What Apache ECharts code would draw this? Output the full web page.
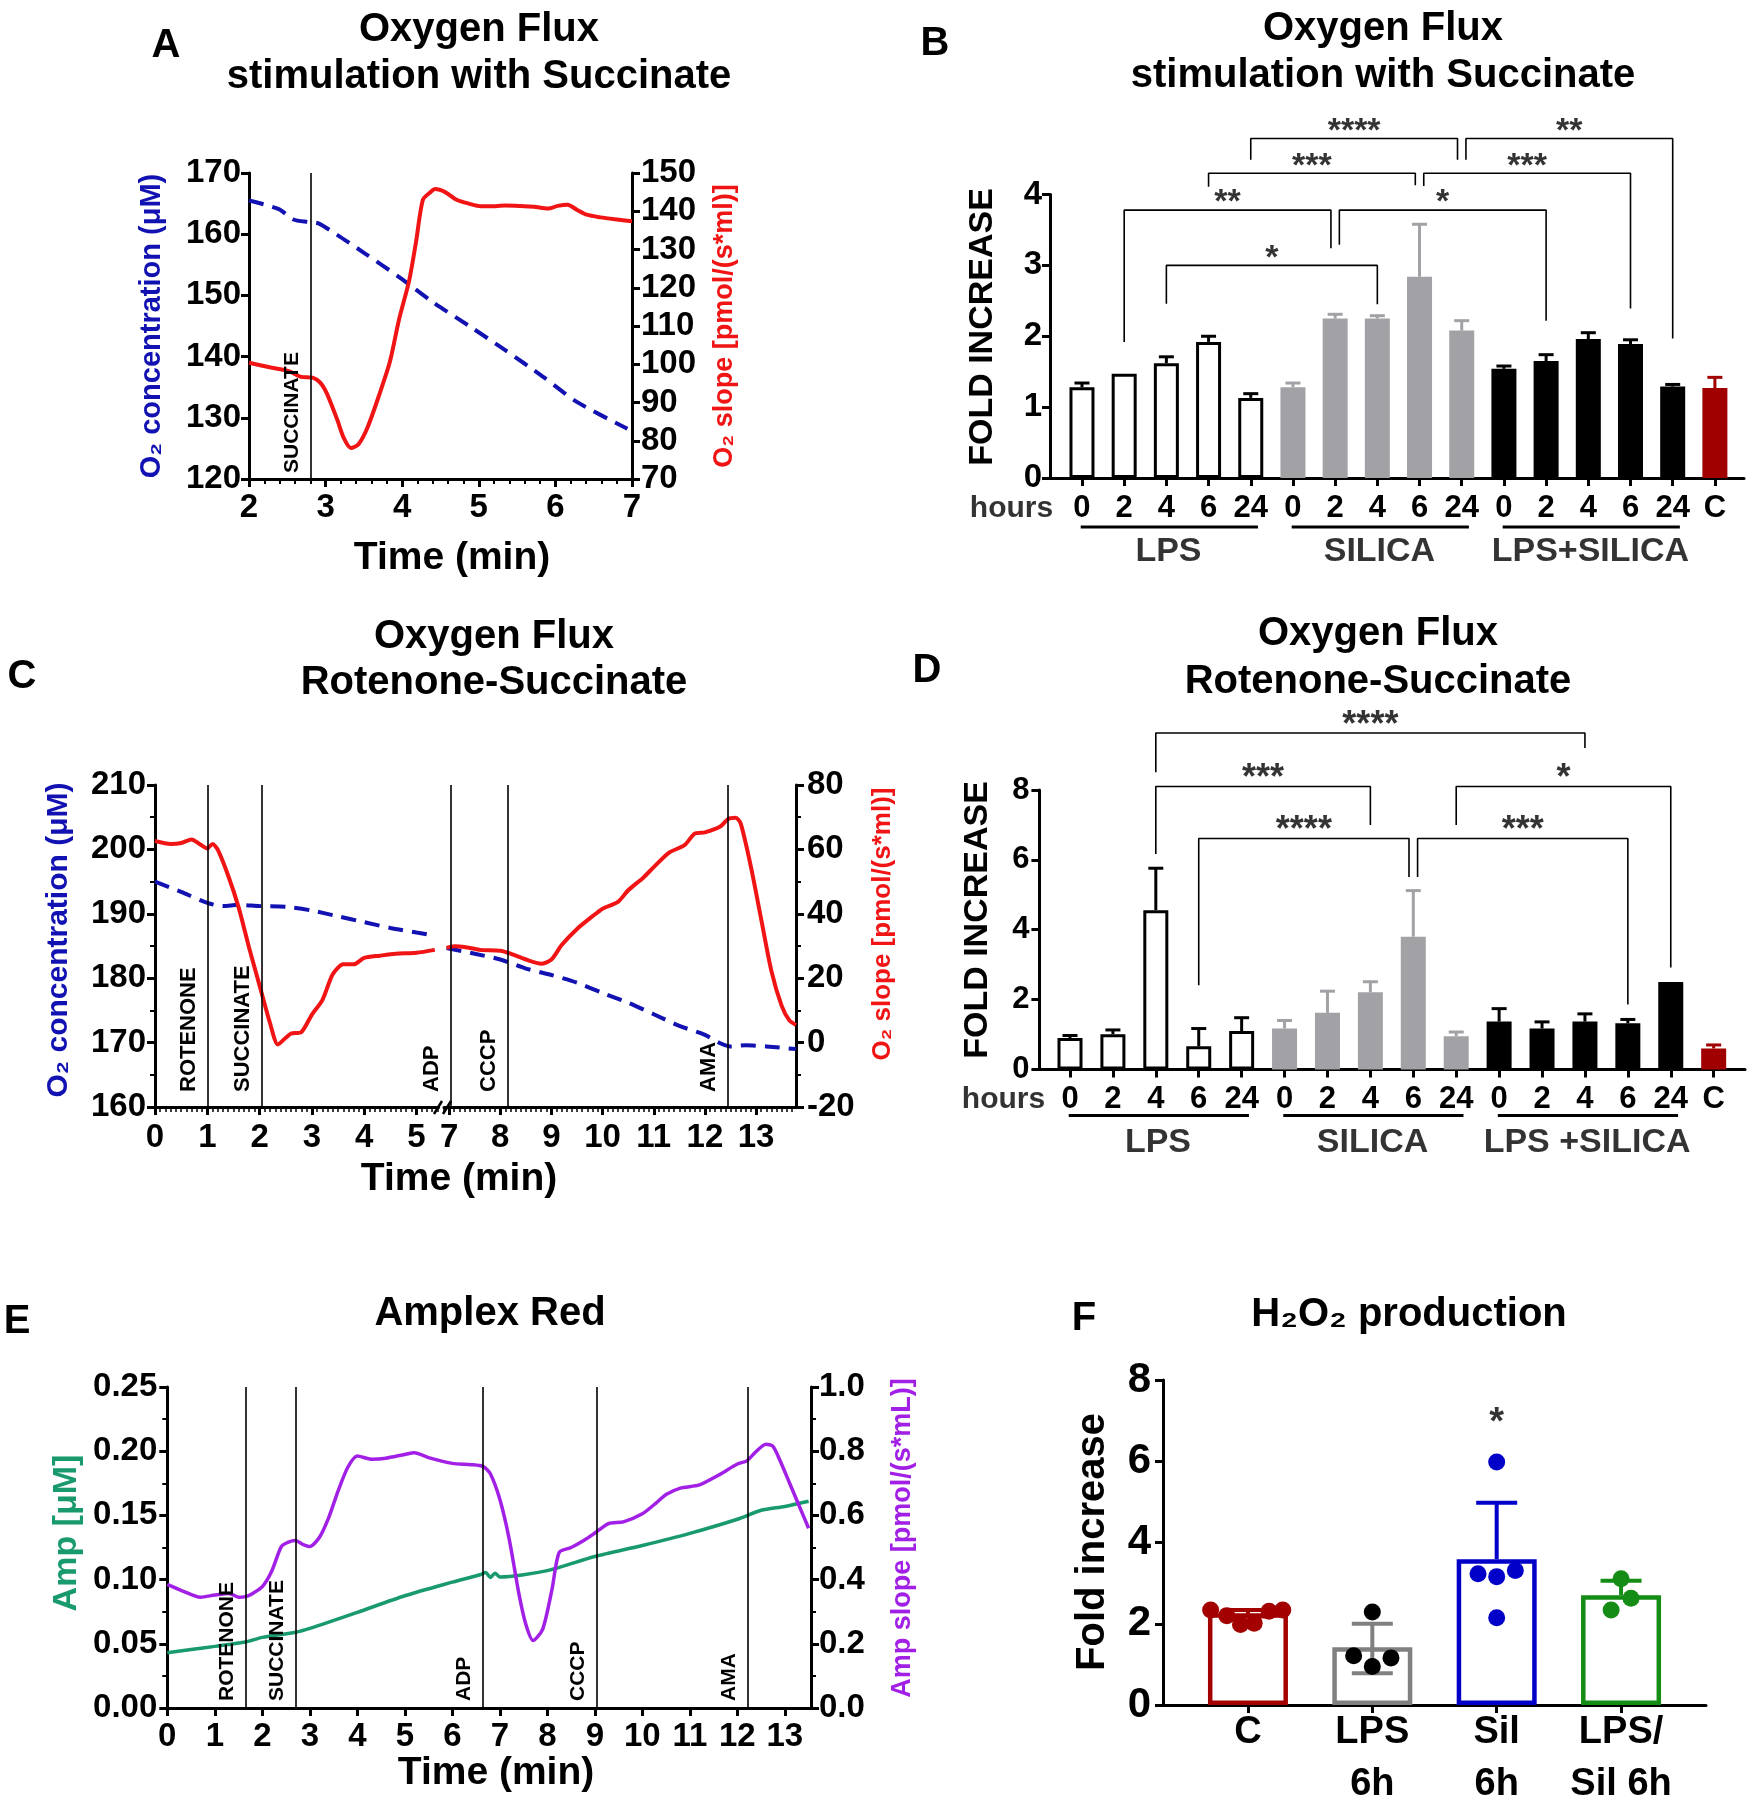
<!DOCTYPE html>
<html>
<head>
<meta charset="utf-8">
<script src="https://cdn.jsdelivr.net/npm/echarts@6/dist/echarts.min.js"></script>
<style>
html,body{margin:0;padding:0;background:#fff;}
#chart{width:1747px;height:1800px;}
</style>
</head>
<body>
<div id="chart"></div>
<script>
// ================= DATA =================
// Panel A : Oxygen flux, stimulation with succinate
const aEvents = [['SUCCINATE', 2.8]];
const aConcTime = [2.0, 2.39, 2.58, 2.77, 2.9, 3.15, 3.52, 3.96, 4.40, 4.9, 5.34, 5.84, 6.28, 6.94];
const aConc     = [165.5, 164.1, 162.4, 162.0, 161.8, 159.9, 156.8, 153.0, 148.9, 144.8, 141.1, 136.7, 132.6, 128.2];
const aSlopeTime = [2.0, 2.27, 2.52, 2.68, 2.83, 2.93, 3.02, 3.15, 3.24, 3.33, 3.43, 3.55, 3.71, 3.84, 3.96, 4.09, 4.18, 4.27, 4.37, 4.43, 4.56, 4.71, 4.87, 5.03, 5.15, 5.34, 5.53, 5.72, 5.9, 6.03, 6.16, 6.28, 6.41, 6.59, 6.78, 7.0];
const aSlope     = [100.4, 99.2, 98.2, 96.7, 96.5, 95.2, 92.2, 85.6, 80.6, 78.1, 79.1, 83.6, 92.6, 100.7, 111.8, 121.8, 131.9, 143.0, 145.0, 145.8, 145.0, 143.0, 142.0, 141.3, 141.3, 141.5, 141.4, 141.2, 140.7, 141.4, 141.7, 140.4, 139.1, 138.4, 137.9, 137.4];

// Panel B : fold increase, succinate
const bHours = ['0','2','4','6','24','0','2','4','6','24','0','2','4','6','24','C'];
const bGroupNames = ['LPS', 'SILICA', 'LPS+SILICA'];
const bLPS    = [1.28, 1.47, 1.62, 1.92, 1.13];
const bLPSErr = [0.06, 0.00, 0.09, 0.08, 0.06];
const bSIL    = [1.28, 2.25, 2.25, 2.84, 2.08];
const bSILErr = [0.06, 0.06, 0.04, 0.74, 0.14];
const bLS     = [1.54, 1.65, 1.96, 1.89, 1.29];
const bLSErr  = [0.04, 0.09, 0.09, 0.06, 0.03];
const bC      = [1.27];
const bCErr   = [0.15];
// brackets: [left x, right x, top, left leg end, right leg end, stars]
const bBrackets = [
  [2, 7, 3.00, 2.46, 2.45, '*'],
  [1, 5.9, 3.78, 1.92, 3.24, '**'],
  [6.1, 11, 3.78, 3.29, 2.22, '*'],
  [3, 7.9, 4.30, 4.11, 4.13, '***'],
  [8.1, 13, 4.30, 4.12, 2.39, '***'],
  [4, 8.9, 4.79, 4.49, 4.49, '****'],
  [9.1, 14, 4.79, 4.49, 1.97, '**']
];

// Panel C : rotenone-succinate traces (time axis broken between 5.4 and 6.9 min)
const cEventsLeft  = [['ROTENONE', 1.01], ['SUCCINATE', 2.05]];
const cEventsRight = [['ADP', 7.03], ['CCCP', 8.15], ['AMA', 12.45]];
const cSlopeTimeL = [0, 0.3, 0.5, 0.7, 0.85, 1.0, 1.1, 1.2, 1.4, 1.6, 1.8, 2.0, 2.2, 2.35, 2.5, 2.6, 2.8, 3.0, 3.2, 3.4, 3.6, 3.8, 4.0, 4.3, 4.6, 5.0, 5.35];
const cSlopeL     = [62.6, 61.7, 62.0, 63.1, 61.7, 60.3, 61.7, 59.9, 51.8, 41.9, 29.4, 17.7, 6.0, -0.6, 1.5, 2.8, 3.3, 8.7, 13.2, 21.3, 24.3, 24.3, 26.3, 27.0, 27.6, 27.9, 28.8];
const cConcTimeL  = [0, 0.5, 1.0, 1.3, 1.6, 2.0, 2.5, 3.0, 3.5, 4.0, 4.5, 5.0, 5.3];
const cConcL      = [195.0, 193.4, 191.7, 191.2, 191.4, 191.2, 191.1, 190.5, 189.6, 188.7, 187.8, 187.1, 186.7];
const cSlopeTimeR = [6.95, 7.1, 7.3, 7.6, 8.0, 8.2, 8.5, 8.8, 9.0, 9.2, 9.5, 9.8, 10.0, 10.3, 10.5, 10.8, 11.0, 11.3, 11.6, 11.8, 12.0, 12.3, 12.45, 12.6, 12.7, 12.9, 13.1, 13.3, 13.5, 13.65, 13.78];
const cSlopeR     = [29.4, 29.9, 29.7, 28.8, 28.5, 27.6, 25.8, 24.5, 25.8, 30.3, 35.3, 39.2, 41.6, 43.7, 47.3, 51.3, 54.5, 59.0, 61.3, 64.9, 65.3, 67.1, 69.4, 69.8, 68.0, 54.5, 38.3, 22.2, 11.4, 6.9, 5.5];
const cConcTimeR  = [6.95, 7.5, 8.0, 8.5, 9.0, 9.5, 10.0, 10.5, 11.0, 11.5, 12.0, 12.3, 12.5, 12.8, 13.2, 13.78];
const cConcR      = [184.7, 183.8, 182.9, 181.5, 180.5, 179.3, 177.7, 176.2, 174.4, 172.6, 171.2, 169.9, 169.4, 169.6, 169.4, 169.0];

// Panel D : fold increase, rotenone-succinate
const dHours = ['0','2','4','6','24','0','2','4','6','24','0','2','4','6','24','C'];
const dGroupNames = ['LPS', 'SILICA', 'LPS +SILICA'];
const dLPS    = [0.90, 1.01, 4.56, 0.66, 1.10];
const dLPSErr = [0.07, 0.12, 1.20, 0.51, 0.38];
const dSIL    = [1.17, 1.62, 2.21, 3.80, 0.95];
const dSILErr = [0.23, 0.62, 0.30, 1.32, 0.12];
const dLS     = [1.37, 1.17, 1.37, 1.32, 2.50];
const dLSErr  = [0.37, 0.19, 0.22, 0.11, 0.00];
const dC      = [0.60];
const dCErr   = [0.10];
const dBrackets = [
  [2, 12, 9.63, 8.51, 9.20, '****'],
  [2, 7, 8.10, 6.17, 7.00, '***'],
  [9, 14, 8.10, 7.00, 2.92, '*'],
  [3, 7.9, 6.61, 2.41, 5.51, '****'],
  [8.1, 13, 6.61, 5.51, 1.86, '***']
];

// Panel E : Amplex Red
const eEvents = [['ROTENONE', 1.65], ['SUCCINATE', 2.71], ['ADP', 6.63], ['CCCP', 9.03], ['AMA', 12.22]];
const eAmpTime = [0, 0.5, 1.0, 1.65, 2.0, 2.7, 3.0, 4.0, 5.0, 6.0, 6.6, 6.7, 6.8, 6.9, 7.0, 8.0, 9.0, 10.0, 11.0, 12.0, 12.5, 13.0, 13.5];
const eAmp     = [0.043, 0.0455, 0.048, 0.0514, 0.055, 0.059, 0.062, 0.0745, 0.0874, 0.098, 0.104, 0.1056, 0.1017, 0.105, 0.102, 0.107, 0.118, 0.1266, 0.136, 0.147, 0.154, 0.157, 0.161];
const eSlopeTime = [0, 0.3, 0.7, 1.0, 1.3, 1.5, 1.65, 1.8, 2.0, 2.2, 2.4, 2.55, 2.7, 2.85, 3.0, 3.2, 3.4, 3.6, 3.8, 4.0, 4.3, 4.6, 5.0, 5.2, 5.5, 6.0, 6.4, 6.65, 6.8, 7.0, 7.2, 7.4, 7.55, 7.7, 7.9, 8.1, 8.25, 8.5, 8.8, 9.0, 9.3, 9.6, 10.0, 10.3, 10.5, 10.8, 11.2, 11.6, 12.0, 12.2, 12.4, 12.6, 12.75, 12.9, 13.1, 13.3, 13.5];
const eSlope     = [0.385, 0.366, 0.345, 0.352, 0.357, 0.345, 0.347, 0.357, 0.378, 0.427, 0.503, 0.517, 0.522, 0.51, 0.503, 0.531, 0.594, 0.678, 0.75, 0.785, 0.775, 0.778, 0.79, 0.795, 0.78, 0.762, 0.758, 0.752, 0.73, 0.65, 0.524, 0.357, 0.259, 0.21, 0.245, 0.371, 0.485, 0.5, 0.525, 0.545, 0.575, 0.58, 0.605, 0.64, 0.665, 0.685, 0.695, 0.725, 0.76, 0.77, 0.8, 0.822, 0.815, 0.77, 0.70, 0.63, 0.56];

// Panel F : H2O2 production
const fCats = ['C', 'LPS\n6h', 'Sil\n6h', 'LPS/\nSil 6h'];
const fMeans   = [2.26, 1.42, 3.59, 2.70];
const fErrUp   = [0.08, 0.58, 1.39, 0.36];
const fErrDown = [0.08, 0.64, 0.00, 0.00];
const fPtsC   = [2.34, 2.20, 1.98, 2.01, 2.31, 2.34];
const fPtsLPS = [2.29, 1.21, 0.95, 1.16];
const fPtsSil = [5.98, 3.23, 3.16, 3.31, 2.15];
const fPtsLS  = [3.11, 2.63, 2.34];
const fSignif = [[2, 7.16, '*']];

// ================= STYLE / LAYOUT =================
const FONT = '"Liberation Sans", Arial, Helvetica, sans-serif';
const BLUE = '#1212b2', RED = '#f01414', GREEN = '#199a6c', PURPLE = '#a220e6';
const GRAYBAR = '#a2a2a6', DARKRED = '#a00000';
const F_BORDER = ['#a30000', '#808080', '#0000c8', '#158c15'];
const F_POINT  = ['#a30000', '#000000', '#0000c8', '#158c15'];
// point spread (horizontal jitter within each column)
const fJitter = [[-0.30, -0.17, -0.06, 0.05, 0.17, 0.28], [0, -0.15, 0, 0.15], [0, -0.15, 0, 0.15, 0], [0, 0.08, -0.08]];

const seq = (a, b, step) => { const r = []; for (let i = 0; a + i * step <= b + 1e-9; i++) r.push(+(a + i * step).toFixed(4)); return r; };
const notInt = v => Math.abs(v - Math.round(v)) > 1e-6;
const pairs = (xs, ys) => xs.map((x, i) => [x, ys[i]]);

const AXL = {show: true, onZero: false, lineStyle: {color: '#000', width: 3}};
const NOLINE = {show: false, onZero: false};
const NOSPLIT = {show: false};
function tick(len, extra) { return Object.assign({show: true, inside: false, length: len, lineStyle: {color: '#000', width: 3}}, extra || {}); }
function lab(size, margin, extra) { return Object.assign({show: true, color: '#000', fontFamily: FONT, fontWeight: 'bold', fontSize: size, margin: margin}, extra || {}); }
function minor(n, len) { return {show: true, splitNumber: n, length: len, lineStyle: {color: '#000', width: 2}}; }

const idxB = bHours.map((_, i) => i);
const idxD = dHours.map((_, i) => i);
const idxF = fCats.map((_, i) => i);
const c1Major = seq(0, 5, 1), c2Major = seq(7, 13, 1), eMajor = seq(0, 13, 1);
const c1Minor = seq(0, 5.4, 0.1).filter(notInt);
const c2Minor = seq(6.9, 13.7, 0.1).filter(notInt);

const grids = [
  {left: 249, top: 173, width: 383, height: 306},      // 0 A
  {left: 1050, top: 194.5, width: 694, height: 283.5}, // 1 B
  {left: 155, top: 785, width: 283.5, height: 322},    // 2 C left part
  {left: 444, top: 785, width: 352, height: 322},      // 3 C right part
  {left: 1039.4, top: 790, width: 705.6, height: 279.4}, // 4 D
  {left: 167.3, top: 1387, width: 643.7, height: 321}, // 5 E
  {left: 1163, top: 1380, width: 543, height: 325}     // 6 F
].map(g => Object.assign({show: false, containLabel: false, outerBoundsMode: 'none'}, g));

const xAxes = [
  {gridIndex: 0, type: 'value', min: 2, max: 7, interval: 1, axisLine: AXL, axisTick: tick(8), minorTick: minor(5, 5), axisLabel: lab(33, 12), splitLine: NOSPLIT, minorSplitLine: NOSPLIT},
  {gridIndex: 1, type: 'value', min: -0.758, max: 15.69, axisLine: AXL, axisTick: tick(8, {customValues: idxB}), axisLabel: lab(31, 15, {customValues: idxB, formatter: v => bHours[Math.round(v)]}), splitLine: NOSPLIT},
  {gridIndex: 2, type: 'value', min: 0, max: 5.42, axisLine: AXL, axisTick: tick(8, {customValues: c1Major}), axisLabel: lab(33, 14, {customValues: c1Major}), splitLine: NOSPLIT},
  {gridIndex: 2, type: 'value', min: 0, max: 5.42, axisLine: NOLINE, axisTick: tick(5, {customValues: c1Minor, lineStyle: {color: '#000', width: 1.5}}), axisLabel: {show: false}, splitLine: NOSPLIT},
  {gridIndex: 3, type: 'value', min: 6.9, max: 13.78, axisLine: AXL, axisTick: tick(8, {customValues: c2Major}), axisLabel: lab(33, 14, {customValues: c2Major}), splitLine: NOSPLIT},
  {gridIndex: 3, type: 'value', min: 6.9, max: 13.78, axisLine: NOLINE, axisTick: tick(5, {customValues: c2Minor, lineStyle: {color: '#000', width: 1.5}}), axisLabel: {show: false}, splitLine: NOSPLIT},
  {gridIndex: 4, type: 'value', min: -0.713, max: 15.73, axisLine: AXL, axisTick: tick(8, {customValues: idxD}), axisLabel: lab(31, 15, {customValues: idxD, formatter: v => dHours[Math.round(v)]}), splitLine: NOSPLIT},
  {gridIndex: 5, type: 'value', min: 0, max: 13.55, axisLine: AXL, axisTick: tick(8, {customValues: eMajor}), axisLabel: lab(33, 12, {customValues: eMajor}), splitLine: NOSPLIT},
  {gridIndex: 6, type: 'value', min: -0.683, max: 3.683, axisLine: AXL, axisTick: tick(8, {customValues: idxF}), axisLabel: lab(38, 2, {customValues: idxF, lineHeight: 52, formatter: v => fCats[Math.round(v)]}), splitLine: NOSPLIT}
].map(a => Object.assign({position: 'bottom'}, a));

const yAxes = [
  {gridIndex: 0, type: 'value', position: 'left', min: 120, max: 170, interval: 10, axisLine: AXL, axisTick: tick(8), axisLabel: lab(33, 8), splitLine: NOSPLIT},
  {gridIndex: 0, type: 'value', position: 'right', min: 70, max: 150, interval: 10, axisLine: AXL, axisTick: tick(8), axisLabel: lab(33, 9), splitLine: NOSPLIT},
  {gridIndex: 1, type: 'value', position: 'left', min: 0, max: 4, interval: 1, axisLine: AXL, axisTick: tick(8), axisLabel: lab(33, 8), splitLine: NOSPLIT},
  {gridIndex: 2, type: 'value', position: 'left', min: 160, max: 210, interval: 10, axisLine: AXL, axisTick: tick(8), minorTick: minor(2, 5), axisLabel: lab(33, 9), splitLine: NOSPLIT, minorSplitLine: NOSPLIT},
  {gridIndex: 2, type: 'value', position: 'right', min: -20, max: 80, show: false, axisLine: NOLINE},
  {gridIndex: 3, type: 'value', position: 'left', min: 160, max: 210, show: false, axisLine: NOLINE},
  {gridIndex: 3, type: 'value', position: 'right', min: -20, max: 80, interval: 20, axisLine: AXL, axisTick: tick(8), minorTick: minor(2, 5), axisLabel: lab(33, 11), splitLine: NOSPLIT, minorSplitLine: NOSPLIT},
  {gridIndex: 4, type: 'value', position: 'left', min: 0, max: 8, interval: 2, axisLine: AXL, axisTick: tick(8), axisLabel: lab(31, 10), splitLine: NOSPLIT},
  {gridIndex: 5, type: 'value', position: 'left', min: 0, max: 0.25, interval: 0.05, axisLine: AXL, axisTick: tick(8), minorTick: minor(2, 5), axisLabel: lab(33, 10, {formatter: v => v.toFixed(2)}), splitLine: NOSPLIT, minorSplitLine: NOSPLIT},
  {gridIndex: 5, type: 'value', position: 'right', min: 0, max: 1, interval: 0.2, axisLine: AXL, axisTick: tick(8), minorTick: minor(2, 5), axisLabel: lab(33, 8, {formatter: v => v.toFixed(1)}), splitLine: NOSPLIT, minorSplitLine: NOSPLIT},
  {gridIndex: 6, type: 'value', position: 'left', min: 0, max: 8, interval: 2, axisLine: AXL, axisTick: tick(8), axisLabel: lab(42, 12), splitLine: NOSPLIT}
];

// ================= SERIES =================
const series = [];

function curve(xi, yi, xs, ys, color, width, dashed, events, evDist, evSize) {
  const s = {type: 'line', xAxisIndex: xi, yAxisIndex: yi, data: pairs(xs, ys), showSymbol: false, symbol: 'none',
    smooth: 0.25, clip: false, silent: true, z: 3,
    lineStyle: {color: color, width: width, type: dashed ? [15, 9] : 'solid', cap: 'butt'}};
  if (events) {
    s.markLine = {silent: true, symbol: ['none', 'none'], animation: false,
      lineStyle: {color: '#000', width: 1.6, type: 'solid'},
      emphasis: {disabled: true},
      label: {show: true, position: 'insideStartTop', formatter: '{b}', color: '#000', fontFamily: FONT,
        fontWeight: 'bold', fontSize: evSize, distance: evDist},
      data: events.map(e => ({name: e[0], xAxis: e[1]}))};
  }
  return s;
}

function errorSeries(xi, yi, rows, color, capW, lw) {
  return {type: 'custom', xAxisIndex: xi, yAxisIndex: yi, silent: true, z: 4, clip: false, data: rows,
    encode: {x: 0, y: 1},
    renderItem: function (params, api) {
      const x = api.value(0), m = api.value(1), up = api.value(2), dn = api.value(3);
      const pT = api.coord([x, m + up]), pB = api.coord([x, m - dn]);
      const st = {stroke: color, lineWidth: lw};
      const ch = [{type: 'line', shape: {x1: pT[0], y1: pT[1], x2: pB[0], y2: pB[1]}, style: st}];
      if (up > 0) ch.push({type: 'line', shape: {x1: pT[0] - capW / 2, y1: pT[1], x2: pT[0] + capW / 2, y2: pT[1]}, style: st});
      if (dn > 0) ch.push({type: 'line', shape: {x1: pB[0] - capW / 2, y1: pB[1], x2: pB[0] + capW / 2, y2: pB[1]}, style: st});
      return {type: 'group', children: ch};
    }};
}

function textSeries(xi, yi, items, size, offset, weight) {
  return {type: 'scatter', xAxisIndex: xi, yAxisIndex: yi, silent: true, clip: false, z: 10, symbolSize: 0.01,
    itemStyle: {color: 'rgba(0,0,0,0)'},
    data: items.map(t => ({value: [t[0], t[1]], name: t[2]})),
    label: {show: true, position: 'inside', formatter: p => p.name, color: '#000', fontFamily: FONT,
      fontWeight: weight || 'bold', fontSize: size, offset: offset || [0, 0]}};
}

function polySeries(xi, yi, pts, width) {
  return {type: 'line', xAxisIndex: xi, yAxisIndex: yi, silent: true, clip: false, z: 6, symbol: 'none', showSymbol: false,
    data: pts, lineStyle: {color: '#000', width: width}};
}

// ---- Panel A
series.push(curve(0, 0, aConcTime, aConc, BLUE, 4, true));
series.push(curve(0, 1, aSlopeTime, aSlope, RED, 4, false, aEvents, [6, 8], 21));

// ---- bar panels B and D
function barPanel(xi, yi, groups, brackets, groupNames, hoursXY, underY, labelY, starSize) {
  const items = [];
  let x = 0;
  const spans = [];
  groups.forEach(g => {
    const start = x;
    const rows = [];
    g.vals.forEach((v, k) => {
      items.push({value: [x, v], itemStyle: {color: g.fill, borderColor: g.stroke, borderWidth: 3}});
      rows.push([x, v, g.errs[k], 0]);
      x++;
    });
    spans.push([start, x - 1]);
    series.push(errorSeries(xi, yi, rows, g.err, 15, 3));
  });
  series.push({type: 'bar', xAxisIndex: xi, yAxisIndex: yi, barWidth: 25, silent: true, z: 2, data: items});
  brackets.forEach(b => series.push(polySeries(xi, yi, [[b[0], b[3]], [b[0], b[2]], [b[1], b[2]], [b[1], b[4]]], 1.6)));
  series.push(textSeries(xi, yi, brackets.map(b => [(b[0] + b[1]) / 2, b[2], b[5]]), starSize, [0, -7]));
  // group underlines + names
  groupNames.forEach((name, gi) => {
    const sp = spans[gi];
    series.push(polySeries(xi, yi, [[sp[0] - 0.03, underY], [sp[1] + 0.17, underY]], 3));
  });
  series.push(textSeries(xi, yi, groupNames.map((n, gi) => [(spans[gi][0] + spans[gi][1]) / 2 + 0.05, labelY, n]), 34));
  series.push(textSeries(xi, yi, [[hoursXY[0], hoursXY[1], 'hours']], 30));
}

barPanel(1, 2, [
  {vals: bLPS, errs: bLPSErr, fill: '#ffffff', stroke: '#000000', err: '#000000'},
  {vals: bSIL, errs: bSILErr, fill: GRAYBAR, stroke: GRAYBAR, err: GRAYBAR},
  {vals: bLS, errs: bLSErr, fill: '#000000', stroke: '#000000', err: '#000000'},
  {vals: bC, errs: bCErr, fill: DARKRED, stroke: DARKRED, err: DARKRED}
], bBrackets, bGroupNames, [-1.67, -0.44], -0.69, -1.04, 34);

barPanel(6, 7, [
  {vals: dLPS, errs: dLPSErr, fill: '#ffffff', stroke: '#000000', err: '#000000'},
  {vals: dSIL, errs: dSILErr, fill: GRAYBAR, stroke: GRAYBAR, err: GRAYBAR},
  {vals: dLS, errs: dLSErr, fill: '#000000', stroke: '#000000', err: '#000000'},
  {vals: dC, errs: dCErr, fill: DARKRED, stroke: DARKRED, err: DARKRED}
], dBrackets, dGroupNames, [-1.55, -0.88], -1.32, -2.09, 36);

// ---- Panel C
series.push(curve(2, 3, cConcTimeL, cConcL, BLUE, 4, true));
series.push(curve(2, 4, cSlopeTimeL, cSlopeL, RED, 4, false, cEventsLeft, [15, 8], 22));
series.push(curve(4, 5, cConcTimeR, cConcR, BLUE, 4, true));
series.push(curve(4, 6, cSlopeTimeR, cSlopeR, RED, 4, false, cEventsRight, [15, 8], 22));

// ---- Panel E
series.push(curve(7, 8, eAmpTime, eAmp, GREEN, 3.5, false, eEvents, [7, 8], 21));
series.push(curve(7, 9, eSlopeTime, eSlope, PURPLE, 3.5, false));

// ---- Panel F
series.push({type: 'bar', xAxisIndex: 8, yAxisIndex: 10, barWidth: 80, silent: true, z: 2,
  data: fMeans.map((v, i) => ({value: [i, v], itemStyle: {color: '#ffffff', borderColor: F_BORDER[i], borderWidth: 4.5}}))});
fMeans.forEach((v, i) => series.push(errorSeries(8, 10, [[i, v, fErrUp[i], fErrDown[i]]], F_BORDER[i], 41, 4)));
[fPtsC, fPtsLPS, fPtsSil, fPtsLS].forEach((pts, gi) => {
  series.push({type: 'scatter', xAxisIndex: 8, yAxisIndex: 10, symbol: 'circle', symbolSize: 17, silent: true, z: 8,
    itemStyle: {color: F_POINT[gi], opacity: 1},
    data: pts.map((v, k) => [gi + fJitter[gi][k], v])});
});
series.push(textSeries(8, 10, fSignif, 38, [0, 9]));

// ================= TEXT (titles, axis names) =================
function txt(x, y, text, size, color, rot) {
  return {type: 'text', x: x, y: y, rotation: rot || 0, silent: true, z: 100,
    style: {text: text, fill: color || '#000', fontSize: size, fontWeight: 'bold', fontFamily: FONT,
      textAlign: 'center', textVerticalAlign: 'middle', align: 'center', verticalAlign: 'middle'}};
}
const R = Math.PI / 2;
const graphics = [
  txt(166, 46, 'A', 40), txt(935, 44, 'B', 40), txt(22, 677, 'C', 40),
  txt(927, 671, 'D', 40), txt(17, 1322, 'E', 40), txt(1084, 1319, 'F', 40),
  txt(479, 30, 'Oxygen Flux', 40), txt(479, 77, 'stimulation with Succinate', 40),
  txt(1383, 29, 'Oxygen Flux', 40), txt(1383, 76, 'stimulation with Succinate', 40),
  txt(494, 637, 'Oxygen Flux', 40), txt(494, 683, 'Rotenone-Succinate', 40),
  txt(1378, 634, 'Oxygen Flux', 40), txt(1378, 682, 'Rotenone-Succinate', 40),
  txt(490, 1314, 'Amplex Red', 40), txt(1409, 1315, 'H\u2082O\u2082 production', 40),
  txt(452, 558, 'Time (min)', 39), txt(459, 1179, 'Time (min)', 39), txt(496, 1773, 'Time (min)', 39),
  txt(152, 326, 'O\u2082 concentration (\u03bcM)', 29, BLUE, R),
  txt(725, 326, 'O\u2082 slope [pmol/(s*ml)]', 27, RED, R),
  txt(983, 327, 'FOLD INCREASE', 34, '#000', R),
  txt(59, 940, 'O\u2082 concentration (\u03bcM)', 30, BLUE, R),
  txt(883, 924, 'O\u2082 slope [pmol/(s*ml)]', 26, RED, R),
  txt(978, 920, 'FOLD INCREASE', 34, '#000', R),
  txt(67, 1533, 'Amp [\u03bcM]', 34, GREEN, R),
  txt(903, 1538, 'Amp slope [pmol/(s*mL)]', 27, PURPLE, R),
  txt(1093, 1542, 'Fold increase', 40, '#000', R),
  // axis break marks on panel C time axis
  {type: 'line', silent: true, z: 100, shape: {x1: 434, y1: 1114, x2: 442, y2: 1101}, style: {stroke: '#000', lineWidth: 2.5}},
  {type: 'line', silent: true, z: 100, shape: {x1: 443, y1: 1114, x2: 451, y2: 1101}, style: {stroke: '#000', lineWidth: 2.5}}
];

const chart = echarts.init(document.getElementById('chart'), null, {renderer: 'canvas', width: 1747, height: 1800});
chart.setOption({
  animation: false,
  backgroundColor: '#ffffff',
  textStyle: {fontFamily: FONT},
  grid: grids,
  xAxis: xAxes,
  yAxis: yAxes,
  series: series,
  graphic: {elements: graphics}
});
</script>
</body>
</html>
